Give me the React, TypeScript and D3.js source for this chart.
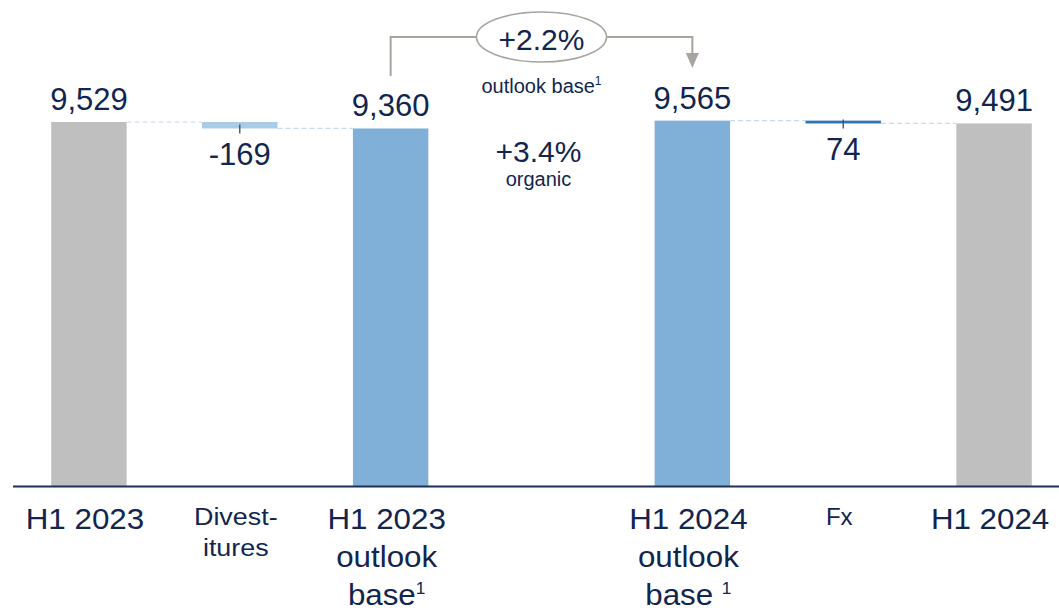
import React from "react";
import * as d3 from "d3";

const categories = ["H1 2023", "Divestitures", "H1 2023 outlook base", "Organic", "H1 2024 outlook base", "Fx", "H1 2024"];
const startValues: (number | null)[] = [0, 9529, 0, null, 0, 9565, 0];
const endValues: (number | null)[] = [9529, 9360, 9360, null, 9565, 9491, 9491];
const valueLabels = ["9,529", "-169", "9,360", "", "9,565", "74", "9,491"];
const barKinds = ["total", "delta-light", "base", "none", "base", "delta-dark", "total"];
const labelLines: string[][] = [["H1 2023"], ["Divest-", "itures"], ["H1 2023", "outlook", "base"], [], ["H1 2024", "outlook", "base "], ["Fx"], ["H1 2024"]];
const labelSup = ["", "", "1", "", "1", "", ""];
const organicGrowth = "+3.4%";
const organicText = "organic";
const outlookGrowth = "+2.2%";
const outlookText = "outlook base";

const W = 1059;
const H = 610;
const FONT = "'Liberation Sans', Arial, Helvetica, sans-serif";
const TEXT = "#12254f";
const COLORS: Record<string, string> = {
  total: "#bfbfbf",
  base: "#80afd8",
  "delta-light": "#a9cbe6",
  "delta-dark": "#2e75b6",
};

const x = d3.scaleBand<string>().domain(categories).range([13.5, 1069.5]).paddingInner(0.5).paddingOuter(0.25);
const y = d3.scaleLinear().domain([0, 12723]).range([486, 0]);

function T({ x, y, size, sx = 1, anchor = "middle", children }: any) {
  return (
    <text transform={`translate(${x},${y}) scale(${sx},1)`} fontSize={size} textAnchor={anchor} fill={TEXT} fontFamily={FONT}>
      {children}
    </text>
  );
}

export default function App() {
  const bw = x.bandwidth();
  const cx = (i: number) => (x(categories[i]) as number) + bw / 2;
  const connectors: { x1: number; x2: number; y: number }[] = [];
  for (let i = 0; i < categories.length - 1; i++) {
    const v = endValues[i];
    if (v != null && endValues[i + 1] != null) {
      connectors.push({ x1: (x(categories[i]) as number) + bw, x2: x(categories[i + 1]) as number, y: y(v) });
    }
  }
  const iBase23 = 2, iGap = 3, iBase24 = 4;
  const ellY = 37;
  return (
    <svg width={W} height={H} style={{ position: "absolute", left: 0, top: 0, background: "#fff" }}>
      {/* connectors */}
      {connectors.map((c, i) => (
        <line key={"c" + i} x1={c.x1} x2={c.x2} y1={c.y} y2={c.y} stroke="#c5dcef" strokeWidth={1.2} strokeDasharray="5,3" />
      ))}
      {/* bars */}
      {categories.map((cat, i) => {
        const s = startValues[i], e = endValues[i];
        if (s == null || e == null) return null;
        const top = Math.min(y(s), y(e));
        const bot = Math.max(y(s), y(e));
        return <rect key={"b" + i} x={x(cat)} y={top} width={bw} height={Math.max(bot - top, 2.5)} fill={COLORS[barKinds[i]]} />;
      })}
      {/* delta ticks */}
      {categories.map((cat, i) => {
        if (!barKinds[i].startsWith("delta")) return null;
        const bot = Math.max(y(startValues[i] as number), y(endValues[i] as number));
        return <line key={"t" + i} x1={cx(i)} x2={cx(i)} y1={bot - 4} y2={bot + 5} stroke="#3a4a6b" strokeWidth={1.3} />;
      })}
      {/* value labels */}
      {categories.map((cat, i) => {
        const s = startValues[i], e = endValues[i];
        if (s == null || e == null || !valueLabels[i]) return null;
        const top = Math.min(y(s), y(e));
        const bot = Math.max(y(s), y(e));
        const isDelta = barKinds[i].startsWith("delta");
        return (
          <T key={"v" + i} x={cx(i)} y={isDelta ? bot + 37 : top - 12} size={31}>
            {valueLabels[i]}
          </T>
        );
      })}
      {/* axis */}
      <line x1={13} x2={W} y1={486.5} y2={486.5} stroke="#1f3057" strokeWidth={2} />
      {/* category labels */}
      {categories.map((cat, i) => {
        const lines = labelLines[i];
        if (!lines.length) return null;
        const small = barKinds[i].startsWith("delta");
        const size = small ? 24 : 29;
        const sx = barKinds[i] === "delta-light" ? 1.12 : small ? 1 : 1.08;
        const lh = small ? 31 : 38;
        const y0 = small ? 525 : 529;
        return lines.map((ln, k) => (
          <T key={"l" + i + "-" + k} x={cx(i) - 4} y={y0 + k * lh} size={size} sx={sx}>
            {ln}
            {k === lines.length - 1 && labelSup[i] ? (
              <tspan fontSize={16} dy={-11}>{labelSup[i]}</tspan>
            ) : null}
          </T>
        ));
      })}
      {/* organic annotation */}
      <T x={cx(iGap) - 3} y={162} size={30}>{organicGrowth}</T>
      <T x={cx(iGap) - 3} y={186} size={20}>{organicText}</T>
      {/* outlook bracket */}
      <path
        d={`M${cx(iBase23)},76 V${ellY} H${cx(iGap) - 65} M${cx(iGap) + 65},${ellY} H${cx(iBase24)} V54`}
        fill="none"
        stroke="#a8a49e"
        strokeWidth={2}
      />
      <path d={`M${cx(iBase24) - 6.5},53 L${cx(iBase24) + 6.5},53 L${cx(iBase24)},68 Z`} fill="#a8a49e" />
      <ellipse cx={cx(iGap)} cy={ellY} rx={65} ry={25} fill="#fff" stroke="#a8a49e" strokeWidth={1.6} />
      <T x={cx(iGap)} y={50} size={30}>{outlookGrowth}</T>
      <T x={cx(iGap)} y={93} size={20}>
        {outlookText}
        <tspan fontSize={12} dy={-8}>1</tspan>
      </T>
    </svg>
  );
}
